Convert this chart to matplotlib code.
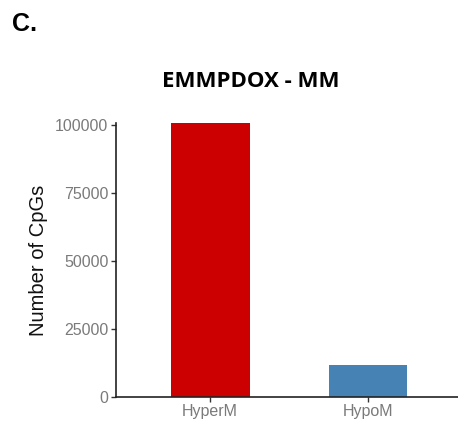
import numpy as np
import matplotlib.pyplot as plt

plt.rcParams['font.family'] = ['Liberation Sans', 'DejaVu Sans']

groups = ["HyperM", "HypoM"]
counts = [100500, 11700]
colors = ["#CC0000", "#4682B4"]
yticks = [0, 25000, 50000, 75000, 100000]

fig = plt.figure(figsize=(4.58, 4.23), dpi=100)
ax = fig.add_axes([0.2533, 0.0622, 0.746, 0.6463])

x = np.arange(1, len(groups) + 1)
ax.bar(x, counts, width=0.5, color=colors)

ax.set_xlim(0.403, 2.568)
ax.set_ylim(0, 100500)
ax.set_xticks(x)
ax.set_xticklabels(groups)
ax.set_yticks(yticks)
ax.set_yticklabels([str(v) for v in yticks])
ax.tick_params(axis='both', colors='#333333', labelcolor='#7a7a7a',
               labelsize=11.5, length=3.5, width=1)
ax.tick_params(axis='x', pad=2)
ax.tick_params(axis='y', pad=2)

for s in ['top', 'right']:
    ax.spines[s].set_visible(False)
for s in ['left', 'bottom']:
    ax.spines[s].set_linewidth(1.2)
    ax.spines[s].set_color('#222222')

ax.set_ylabel("Number of CpGs", fontsize=14.5, color='#111111', labelpad=5)

fig.text(0.548, 0.808, "EMMPDOX - MM", ha='center', va='center',
         fontsize=16, fontweight='bold', family=['Open Sans', 'DejaVu Sans'])
fig.text(0.027, 0.943, "C.", ha='left', va='center', fontsize=18,
         fontweight='bold')

fig.savefig("out.png", dpi=100)
